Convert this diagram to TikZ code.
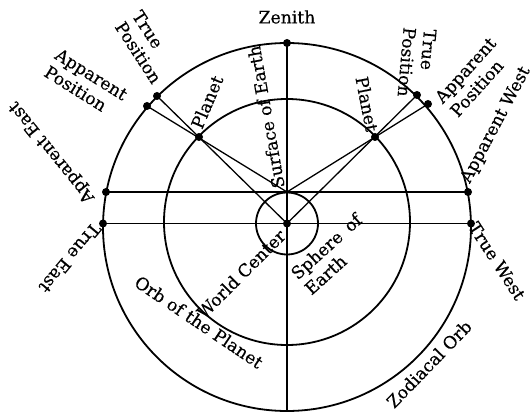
\documentclass[tikz,border=0pt]{standalone}
\usepackage{fontspec}
\setmainfont{DejaVu Serif}
\newfontfamily\lblfont{DejaVu Serif}[FakeBold=0.35]
\begin{document}
\begin{tikzpicture}[x=1pt,y=-1pt,
  dot/.style={circle,fill=black,inner sep=0pt,minimum size=8pt},
  ring/.style={line width=1.8pt},
  ray/.style={line width=1.3pt},
  lbl/.style={font=\lblfont\fontsize{17.2}{20.5}\selectfont, inner sep=0pt, align=left}]
\useasboundingbox (0,0) rectangle (531,414);
\fill[white] (0,0) rectangle (531,414);
% circles
\draw[ring] (287,227) circle[radius=184pt];
\draw[ring] (287,222) circle[radius=123pt];
\draw[ring] (287,223.5) circle[radius=31pt];
% points
\coordinate (se) at (287,192);
\coordinate (nad) at (287,411);
\node[dot] (zen) at (287,43) {};
\node[dot] (ae) at (106,192) {};
\node[dot] (aw) at (468,192) {};
\node[dot] (te) at (103,223.5) {};
\node[dot] (tw) at (471,223.5) {};
\node[dot] (wc) at (287,223.5) {};
\node[dot] (pl) at (199,137) {};
\node[dot] (pr) at (375,137) {};
\node[dot] (tpl) at (157,96) {};
\node[dot] (apl) at (147,106) {};
\node[dot] (tpr) at (417,95) {};
\node[dot] (apr) at (428,104) {};
% lines
\draw[ray] (zen.center) -- (nad);
\draw[ray] (ae.center) -- (aw.center);
\draw[ray] (te.center) -- (tw.center);
\draw[ray] (wc.center) -- (tpl.center);
\draw[ray] (wc.center) -- (tpr.center);
\draw[ray] (se) -- (apl.center);
\draw[ray] (se) -- (apr.center);
% labels
\node[lbl] (lzen) at (287,17) {Zenith};
\node[lbl,rotate=-57] (ltpl) at (147,47) {True\\Position};
\node[lbl,rotate=-32] (lapl) at (86,83) {Apparent\\Position};
\node[lbl,rotate=129] (lae) at (52,152) {Apparent East};
\node[lbl,rotate=230] (lte) at (70,258) {True East};
\node[lbl,rotate=67] (lpl) at (207,102) {Planet};
\node[lbl,rotate=100] (lse) at (266,117) {Surface of Earth};
\node[lbl,rotate=-79] (lpr) at (367,104) {Planet};
\node[lbl,rotate=-95] (ltpr) at (417,63) {True\\Position};
\node[lbl,rotate=48] (lapr) at (473,77) {Apparent\\Position};
\node[lbl,rotate=62] (law) at (496,125) {Apparent West};
\node[lbl,rotate=-57] (ltw) at (497,261) {True West};
\node[lbl,rotate=45] (lwc) at (241,274) {World Center};
\node[lbl,rotate=42] (lsph) at (333,254) {Sphere\enspace of\\Earth};
\node[lbl,rotate=-34] (lorb) at (199,322) {Orb of the Planet};
\node[lbl,rotate=46] (lzod) at (429,364) {Zodiacal Orb};
\end{tikzpicture}
\end{document}
